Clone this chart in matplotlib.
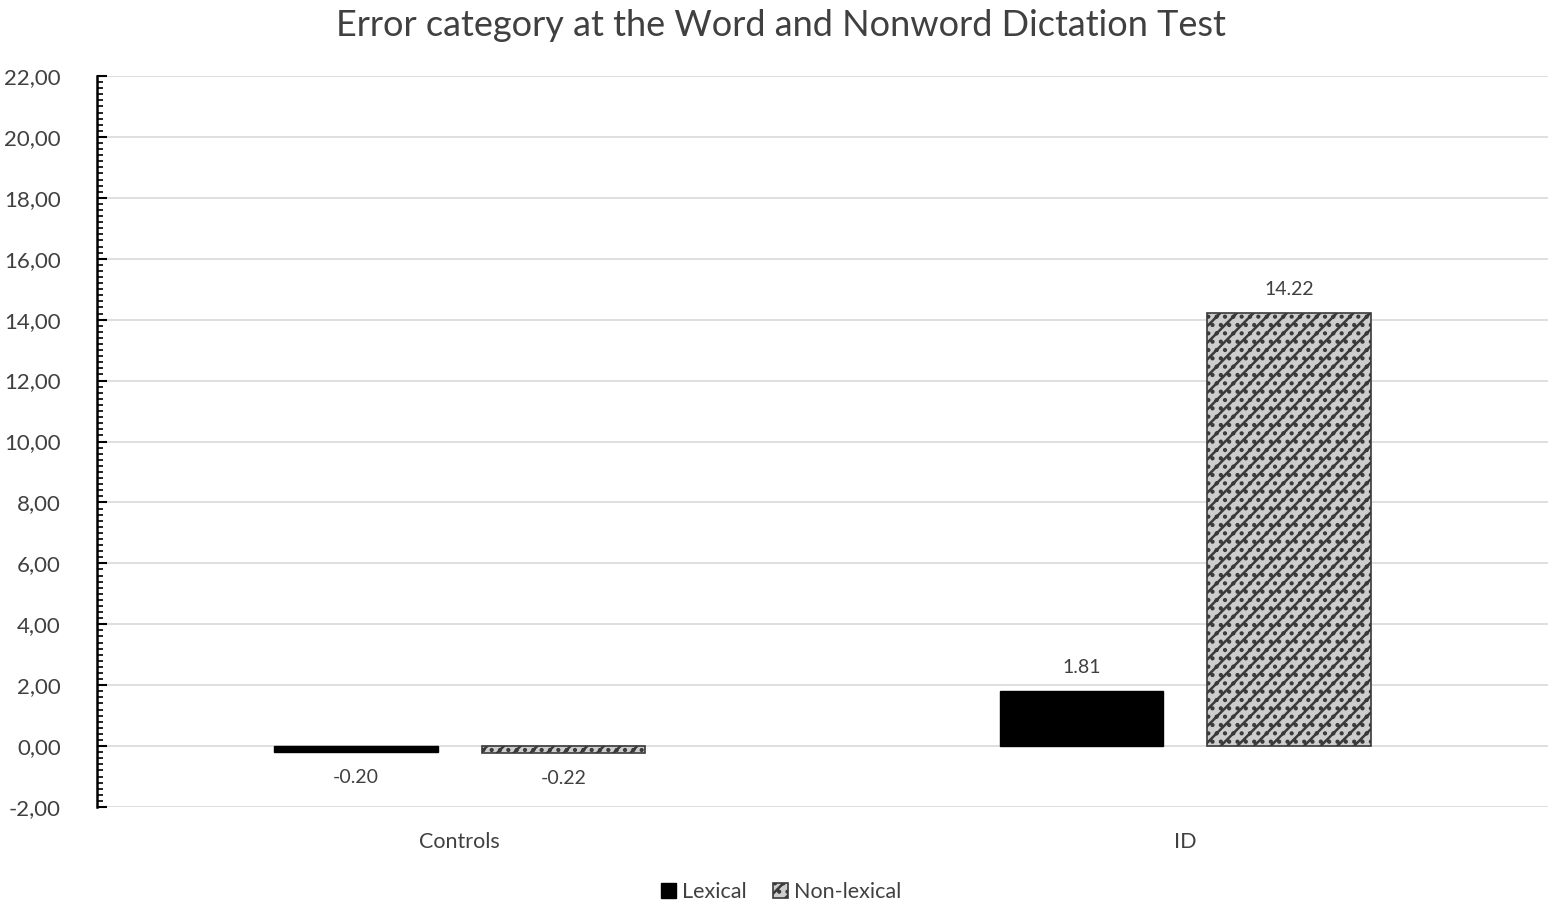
import numpy as np
import matplotlib.pyplot as plt
from matplotlib.ticker import MultipleLocator, FuncFormatter

plt.rcParams['font.family'] = ['Lato', 'DejaVu Sans']
plt.rcParams['hatch.linewidth'] = 1.8
plt.rcParams['hatch.color'] = '#3a3a3a'

# data
groups = ['Controls', 'ID']
lexical = [-0.20, 1.81]
non_lexical = [-0.22, 14.22]
series_names = ['Lexical', 'Non-lexical']

fig = plt.figure(figsize=(15.62, 9.11), dpi=100)
ax = fig.add_axes([97 / 1562, 1 - 807 / 911, 1451 / 1562, 731 / 911])

x = np.arange(len(groups))
w = 0.225
off = 0.143

b1 = ax.bar(x - off, lexical, w, color='black', edgecolor='black', label=series_names[0], zorder=3)
b2 = ax.bar(x + off, non_lexical, w, color='#cdcdcd', edgecolor='#3a3a3a', hatch='//..',
            linewidth=1.2, label=series_names[1], zorder=3)

for bars, vals in [(b1, lexical), (b2, non_lexical)]:
    for r, v in zip(bars, vals):
        cx = r.get_x() + r.get_width() / 2
        if v < 0:
            ax.text(cx, v - 0.55, f'{v:.2f}', ha='center', va='top', fontsize=14, color='#404040')
        else:
            ax.text(cx, v + 0.5, f'{v:.2f}', ha='center', va='bottom', fontsize=14, color='#404040')

ax.set_xlim(-0.5, 1.5)
ax.set_ylim(-2, 22)
ax.yaxis.set_major_locator(MultipleLocator(2))
ax.yaxis.set_minor_locator(MultipleLocator(0.2))
ax.yaxis.set_major_formatter(FuncFormatter(lambda v, p: f'{v:.2f}'.replace('.', ',')))
ax.set_xticks(x)
ax.set_xticklabels(groups)
ax.tick_params(axis='y', which='major', direction='in', length=7, width=1.5, labelsize=16,
               labelcolor='#404040', pad=26)
ax.tick_params(axis='y', which='minor', direction='in', length=4, width=1.2)
ax.tick_params(axis='x', length=0, labelsize=15.5, labelcolor='#404040', pad=18)

ax.grid(axis='y', color='#d9d9d9', linewidth=1.2, zorder=0)
for s in ['top', 'right', 'bottom']:
    ax.spines[s].set_visible(False)
ax.spines['left'].set_linewidth(1.8)

fig.suptitle('Error category at the Word and Nonword Dictation Test', fontsize=26,
             color='#404040', y=0.99)

fig.legend(handles=[b1, b2], loc='center', bbox_to_anchor=(0.5, 1 - 892 / 911), ncol=2,
           frameon=False, fontsize=15.5, handlelength=0.7, handleheight=0.7,
           columnspacing=1.2, handletextpad=0.3, labelcolor='#404040')

fig.savefig('out.png', dpi=100)
